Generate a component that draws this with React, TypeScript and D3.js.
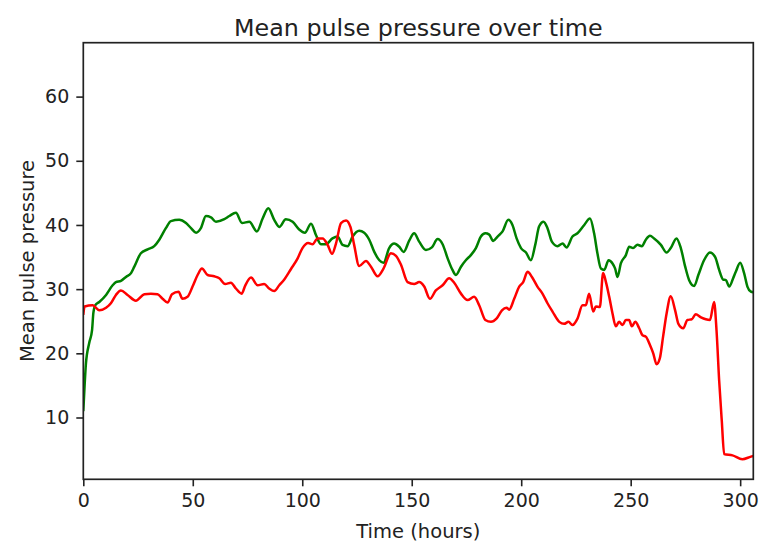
import React, { useEffect, useRef } from "react";
import * as d3 from "d3";

const chartTitle = "Mean pulse pressure over time";
const xLabel = "Time (hours)";
const yLabel = "Mean pulse pressure";
const xTicks = [0, 50, 100, 150, 200, 250, 300];
const yTicks = [10, 20, 30, 40, 50, 60];

// green series
const greenHours = [
  0, 0.6, 1.2, 2.7, 4.0, 4.6, 5.5, 7.3, 10.4, 13.4, 14.9, 17.2, 19.5, 21.8, 23.3, 26.3, 29.4, 32.4, 34.7, 37.7,
  40.0, 43.8, 46.9, 49.2, 51.5, 53.7, 56.0, 58.3, 60.6, 64.4, 66.7, 69.7, 72.5, 75.8, 79.3, 81.9, 84.5, 87.2, 89.5, 92.5,
  95.6, 98.6, 101.2, 104.0, 106.3, 108.5, 110.8, 113.8, 116.1, 118.4, 120.7, 123.0, 126.0, 128.3, 130.6, 132.9, 135.2, 137.1, 139.7, 142.0,
  144.3, 146.3, 148.9, 151.1, 153.4, 156.5, 159.2, 161.8, 164.1, 166.4, 168.6, 170.2, 172.5, 174.7, 177.0, 179.3, 181.6, 183.6, 185.4, 187.2,
  189.2, 191.5, 194.1, 196.0, 197.9, 199.9, 202.2, 204.4, 206.4, 208.2, 210.2, 212.0, 214.0, 216.6, 218.9, 220.7, 223.4, 225.7, 228.8, 231.4,
  233.3, 234.8, 236.4, 237.9, 239.9, 241.7, 242.9, 244.0, 245.5, 247.8, 249.3, 251.1, 253.1, 255.1, 256.9, 258.8, 260.7, 263.8, 266.4, 268.3,
  270.9, 272.9, 274.9, 276.7, 279.0, 280.9, 283.5, 286.2, 288.6, 290.4, 292.2, 293.5, 295.0, 296.8, 298.0, 300.0, 301.8, 303.3, 304.9, 306,
];
const greenPressure = [
  11.0, 15.0, 18.4, 21.6, 23.6, 26.3, 27.5, 28.0, 29.1, 30.6, 31.1, 31.3, 31.9, 32.5, 33.5, 35.6, 36.2, 36.7, 37.7, 39.5,
  40.6, 40.8, 40.3, 39.5, 38.8, 39.5, 41.4, 41.2, 40.5, 40.9, 41.4, 41.9, 40.3, 40.5, 39.0, 41.0, 42.6, 40.8, 39.7, 40.9,
  40.5, 39.3, 38.8, 40.2, 38.4, 37.0, 37.0, 37.9, 38.2, 36.9, 36.7, 38.2, 39.1, 38.8, 37.7, 35.8, 34.5, 34.1, 36.4, 37.1,
  36.6, 35.8, 37.6, 38.7, 37.4, 36.1, 36.5, 37.8, 37.0, 34.8, 33.0, 32.2, 33.5, 34.5, 35.3, 36.4, 38.2, 38.7, 38.5, 37.5,
  38.2, 39.0, 40.8, 40.0, 37.9, 36.4, 35.7, 34.5, 36.9, 39.8, 40.5, 39.5, 37.4, 36.7, 37.1, 36.5, 38.2, 38.7, 40.0, 41.0,
  38.7, 35.6, 33.2, 33.0, 34.5, 34.0, 33.2, 31.9, 34.0, 35.3, 36.6, 36.4, 36.9, 36.7, 37.7, 38.3, 37.9, 36.9, 35.7, 36.4,
  37.9, 36.4, 33.5, 31.4, 30.5, 32.2, 34.5, 35.7, 35.0, 33.0, 31.5, 31.4, 30.4, 31.7, 32.7, 34.1, 32.5, 30.4, 29.6, 29.5,
];

// red series
const redHours = [
  0, 0.6, 4.3, 7.3, 10.4, 12.6, 14.9, 17.2, 20.2, 24.0, 27.9, 30.9, 33.9, 36.2, 38.5, 40.5, 43.5, 45.3, 47.6, 49.9,
  52.2, 54.2, 56.8, 59.8, 62.1, 64.8, 67.4, 69.7, 72.3, 74.0, 76.6, 79.6, 82.6, 84.9, 87.2, 89.5, 91.8, 94.8, 97.9, 100.1,
  102.7, 104.7, 107.0, 109.3, 111.6, 113.6, 115.4, 117.7, 120.0, 122.0, 123.7, 126.0, 129.1, 131.4, 134.4, 137.1, 140.5, 142.8, 145.1, 148.1,
  151.1, 153.4, 155.7, 158.3, 161.0, 164.1, 167.1, 169.4, 172.5, 175.5, 178.5, 180.8, 183.6, 186.2, 188.7, 191.2, 193.3, 194.5, 196.8, 199.1,
  200.9, 202.9, 204.9, 207.4, 209.7, 212.0, 214.3, 217.4, 219.6, 221.6, 223.4, 225.7, 228.0, 229.5, 231.0, 232.9, 234.1, 235.9, 237.4, 238.7,
  240.2, 241.7, 243.2, 244.7, 246.3, 247.8, 249.3, 250.5, 252.1, 253.9, 255.4, 256.9, 258.8, 260.3, 261.8, 263.3, 264.8, 266.4, 268.3, 270.3,
  271.8, 274.0, 275.9, 277.9, 279.7, 282.1, 284.3, 286.2, 288.1, 289.2, 290.4, 291.6, 292.7, 296.5, 301.0, 304.9, 306,
];
const redPressure = [
  26.0, 27.3, 27.5, 26.7, 27.1, 27.8, 29.1, 29.8, 29.1, 28.2, 29.2, 29.3, 29.2, 28.5, 27.9, 29.2, 29.6, 28.5, 28.8, 30.4,
  32.2, 33.2, 32.2, 32.0, 31.7, 30.8, 31.0, 30.1, 29.3, 30.6, 31.8, 30.6, 30.8, 30.1, 29.7, 30.6, 31.5, 33.1, 34.8, 36.4,
  37.2, 37.0, 37.9, 37.9, 36.9, 35.5, 37.1, 40.3, 40.7, 39.7, 36.9, 33.6, 34.4, 33.5, 32.0, 33.2, 35.6, 35.2, 33.8, 31.1,
  30.8, 31.1, 30.4, 28.5, 29.8, 30.6, 31.7, 31.0, 29.3, 28.3, 28.8, 27.5, 25.2, 24.9, 25.4, 26.7, 27.1, 26.8, 28.5, 30.4,
  31.1, 32.7, 31.9, 30.4, 29.3, 27.8, 26.5, 24.9, 24.6, 24.9, 24.4, 25.4, 27.5, 27.5, 29.3, 26.5, 27.3, 27.2, 32.5, 31.1,
  28.8, 26.2, 24.2, 24.9, 24.4, 25.2, 25.2, 24.2, 24.9, 23.9, 22.8, 22.6, 21.3, 20.0, 18.3, 19.2, 22.6, 26.2, 28.9, 26.7,
  24.6, 23.9, 25.2, 25.3, 26.1, 25.6, 25.3, 25.2, 28.0, 23.6, 15.8, 9.5, 4.3, 4.1, 3.5, 3.9, 4.0,
];

const W = 759;
const H = 542;
const margin = { top: 42.7, right: 5.7, bottom: 62.7, left: 83.3 };
const FONT = "'DejaVu Sans', sans-serif";
const INK = "#222";

function Chart() {
  const ref = useRef<SVGSVGElement>(null);

  useEffect(() => {
    const svg = d3.select(ref.current);
    svg.selectAll("*").remove();

    const x = d3.scaleLinear().domain([0, 306]).range([margin.left, W - margin.right]);
    const y = d3.scaleLinear().domain([0.37, 68.4]).range([H - margin.bottom, margin.top]);

    const series = [
      { color: "#008000", pts: greenHours.map((h, i) => [h, greenPressure[i]] as [number, number]) },
      { color: "#ff0000", pts: redHours.map((h, i) => [h, redPressure[i]] as [number, number]) },
    ];

    svg.append("clipPath").attr("id", "plot-clip").append("rect")
      .attr("x", margin.left).attr("y", margin.top)
      .attr("width", W - margin.left - margin.right).attr("height", H - margin.top - margin.bottom);

    const line = d3.line<[number, number]>().x(d => x(d[0])).y(d => y(d[1])).curve(d3.curveMonotoneX);

    svg.append("g").attr("clip-path", "url(#plot-clip)")
      .selectAll("path")
      .data(series)
      .join("path")
      .attr("d", d => line(d.pts))
      .attr("fill", "none")
      .attr("stroke", d => d.color)
      .attr("stroke-width", 2.5)
      .attr("stroke-linejoin", "round");

    // axes
    const xAxis = svg.append("g").attr("transform", `translate(0,${H - margin.bottom})`)
      .call(d3.axisBottom(x).tickValues(xTicks).tickSize(7).tickPadding(7).tickFormat(d3.format("d")));
    const yAxis = svg.append("g").attr("transform", `translate(${margin.left},0)`)
      .call(d3.axisLeft(y).tickValues(yTicks).tickSize(7).tickPadding(7).tickFormat(d3.format("d")));

    [xAxis, yAxis].forEach(g => {
      g.select(".domain").remove();
      g.selectAll("line").attr("stroke", INK).attr("stroke-width", 1.6);
      g.selectAll("text").attr("fill", INK).style("font-family", FONT).style("font-size", "19px");
    });

    // frame
    svg.append("rect")
      .attr("x", margin.left).attr("y", margin.top)
      .attr("width", W - margin.left - margin.right).attr("height", H - margin.top - margin.bottom)
      .attr("fill", "none").attr("stroke", INK).attr("stroke-width", 1.7);

    const midX = (margin.left + W - margin.right) / 2;
    svg.append("text").attr("x", midX).attr("y", 36).attr("text-anchor", "middle")
      .attr("fill", INK).style("font-family", FONT).style("font-size", "23.8px").text(chartTitle);
    svg.append("text").attr("x", midX).attr("y", 537.5).attr("text-anchor", "middle")
      .attr("fill", INK).style("font-family", FONT).style("font-size", "19.5px").text(xLabel);
    svg.append("text").attr("transform", `translate(33.5,${(margin.top + H - margin.bottom) / 2}) rotate(-90)`)
      .attr("text-anchor", "middle")
      .attr("fill", INK).style("font-family", FONT).style("font-size", "19.5px").text(yLabel);
  }, []);

  return <svg ref={ref} width={W} height={H} style={{ position: "absolute", left: 0, top: 0, background: "#fff" }} />;
}

export default function App() {
  return <Chart />;
}
